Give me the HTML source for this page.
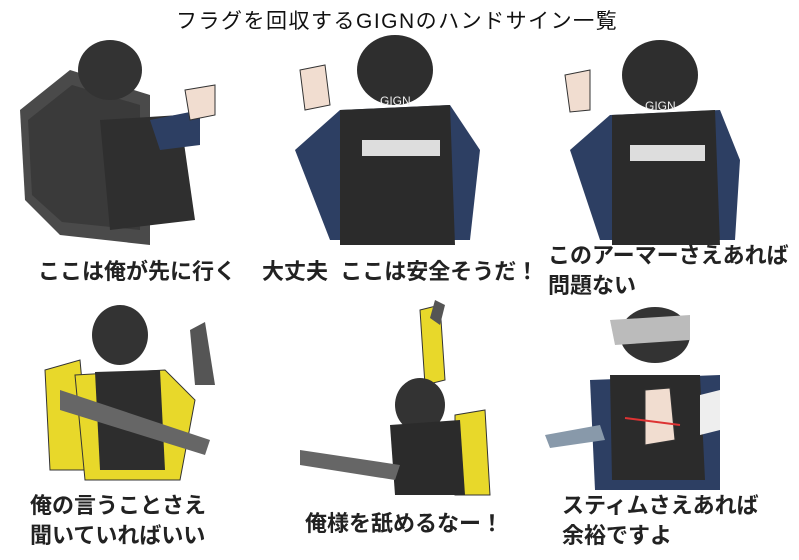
<!DOCTYPE html>
<html><head><meta charset="utf-8"><style>
html,body{margin:0;padding:0;background:#fff;}
body{width:799px;height:560px;position:relative;overflow:hidden;font-family:"Liberation Sans","Noto Sans CJK JP",sans-serif;color:#222;}
.t{position:absolute;white-space:nowrap;font-size:22px;line-height:28px;font-weight:bold;}
svg{position:absolute;left:0;top:0;}
</style></head><body>
<svg width="799" height="560" viewBox="0 0 799 560">
<path d="M20 110 L70 70 L150 95 L150 245 L60 235 L25 200 Z" fill="#4a4a4a"/>
<path d="M28 120 L72 85 L140 105 L140 230 L62 222 L32 195 Z" fill="#3a3a3a"/>
<ellipse cx="110" cy="70" rx="32" ry="30" fill="#333"/>
<path d="M100 120 L180 115 L195 220 L110 230 Z" fill="#2f2f2f"/>
<path d="M150 120 L200 110 L200 145 L160 150 Z" fill="#2d3f63"/>
<path d="M185 90 L215 85 L215 115 L190 120 Z" fill="#f1ddd0" stroke="#333"/>
<ellipse cx="395" cy="70" rx="38" ry="35" fill="#2e2e2e"/>
<path d="M295 150 L340 110 L450 105 L480 150 L470 240 L330 240 Z" fill="#2d3f63"/>
<path d="M340 110 L450 105 L455 245 L340 245 Z" fill="#2b2b2b"/>
<rect x="362" y="140" width="78" height="16" fill="#ddd"/>
<text x="380" y="105" font-size="12" fill="#eee" font-family="Liberation Sans">GIGN</text>
<path d="M300 70 L325 65 L330 105 L305 110 Z" fill="#f1ddd0" stroke="#333"/>
<ellipse cx="660" cy="75" rx="38" ry="35" fill="#2e2e2e"/>
<path d="M570 150 L610 115 L720 110 L740 160 L735 240 L600 240 Z" fill="#2d3f63"/>
<path d="M612 115 L715 110 L720 245 L612 245 Z" fill="#2b2b2b"/>
<rect x="630" y="145" width="75" height="16" fill="#ddd"/>
<text x="645" y="110" font-size="12" fill="#eee" font-family="Liberation Sans">GIGN</text>
<path d="M565 75 L590 70 L590 110 L570 112 Z" fill="#f1ddd0" stroke="#333"/>
<path d="M45 370 L80 360 L90 470 L50 470 Z" fill="#e8d82a" stroke="#333"/>
<ellipse cx="120" cy="335" rx="28" ry="30" fill="#333"/>
<path d="M75 375 L165 370 L195 400 L180 480 L85 480 Z" fill="#e8d82a" stroke="#333"/>
<path d="M95 372 L160 370 L165 470 L100 470 Z" fill="#2d2d2d"/>
<path d="M60 390 L210 440 L205 455 L60 410 Z" fill="#666"/>
<path d="M190 330 L205 322 L215 385 L195 385 Z" fill="#555"/>
<path d="M420 310 L440 305 L445 380 L425 385 Z" fill="#e8d82a" stroke="#333"/>
<path d="M435 300 L445 305 L440 325 L430 318 Z" fill="#555"/>
<ellipse cx="420" cy="405" rx="25" ry="27" fill="#333"/>
<path d="M455 415 L485 410 L490 495 L455 495 Z" fill="#e8d82a" stroke="#333"/>
<path d="M390 425 L460 420 L465 495 L395 495 Z" fill="#2b2b2b"/>
<path d="M300 450 L400 465 L395 480 L300 465 Z" fill="#666"/>
<ellipse cx="655" cy="335" rx="35" ry="28" fill="#333"/>
<path d="M610 320 L690 315 L690 340 L615 345 Z" fill="#bbb"/>
<path d="M590 380 L720 375 L720 490 L595 490 Z" fill="#2d3f63"/>
<path d="M610 375 L700 375 L705 480 L612 480 Z" fill="#2b2b2b"/>
<path d="M700 395 L720 390 L720 430 L700 435 Z" fill="#eee"/>
<path d="M645 390 L670 388 L675 440 L645 445 Z" fill="#f1ddd0" stroke="#333"/>
<path d="M625 418 L680 425" stroke="#d33" stroke-width="2"/>
<path d="M545 435 L600 425 L605 440 L550 448 Z" fill="#8899aa"/>
</svg>
<div class="t" style="left:176px;top:8px;font-size:21px;letter-spacing:1.5px;font-weight:normal;color:#111;">フラグを回収するGIGNのハンドサイン一覧</div>
<div class="t" style="left:38px;top:258px;">ここは俺が先に行く</div>
<div class="t" style="left:262px;top:258px;">大丈夫&nbsp;&nbsp;ここは安全そうだ！</div>
<div class="t" style="left:548px;top:242px;">このアーマーさえあれば</div>
<div class="t" style="left:548px;top:272px;">問題ない</div>
<div class="t" style="left:30px;top:492px;">俺の言うことさえ</div>
<div class="t" style="left:30px;top:522px;">聞いていればいい</div>
<div class="t" style="left:305px;top:510px;">俺様を舐めるなー！</div>
<div class="t" style="left:562px;top:492px;">スティムさえあれば</div>
<div class="t" style="left:562px;top:522px;">余裕ですよ</div>
</body></html>
